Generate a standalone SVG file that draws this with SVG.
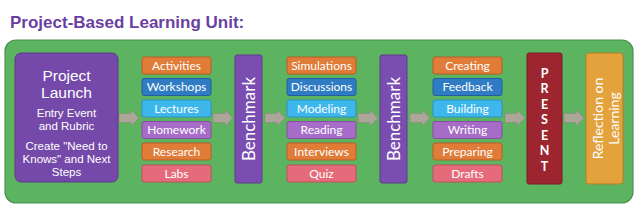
<svg xmlns="http://www.w3.org/2000/svg" width="640" height="221" viewBox="0 0 640 221">
<defs>
<style>
.box{stroke-width:1;}
.o{fill:#e07b38;stroke:#b85e24;}
.db{fill:#2f7cc4;stroke:#21609c;}
.lb{fill:#3db7ec;stroke:#2a93c0;}
.lv{fill:#a66cc7;stroke:#84509f;}
.pk{fill:#e56b7b;stroke:#bd5060;}
.lbl{font-family:Lato,"Open Sans",sans-serif;font-size:12px;fill:#ffffff;text-anchor:middle;}
.big{font-family:"Liberation Sans",Arial,sans-serif;fill:#ffffff;text-anchor:middle;}
.arrow{fill:#aca698;stroke:#8f8a7e;stroke-width:0.6;}
</style>
<path id="arr" d="M0,-4.5 H12 V-8 L20,0 L12,8 V4.5 H0 Z"/>
</defs>
<text x="10" y="28" font-family="Liberation Sans,Arial,sans-serif" font-weight="bold" font-size="17" fill="#6a3fa2">Project-Based Learning Unit:</text>
<rect id="panel" x="5" y="40" width="628" height="163" rx="11" fill="#5cb360" stroke="#4b934e" stroke-width="1.2"/>

<g id="connectors">
<use href="#arr" class="arrow" x="119" y="118"/>
<use href="#arr" class="arrow" x="213" y="118"/>
<use href="#arr" class="arrow" x="265" y="118"/>
<use href="#arr" class="arrow" x="358" y="118"/>
<use href="#arr" class="arrow" x="410" y="118"/>
<use href="#arr" class="arrow" x="505" y="118"/>
<use href="#arr" class="arrow" x="564" y="118"/>
</g>

<g id="launch">
<rect x="15" y="53" width="103" height="129" rx="6" fill="#7549a9" stroke="#5e3a8a"/>
<text class="big" x="66.5" y="81" font-size="15.5">Project</text>
<text class="big" x="66.5" y="98" font-size="15.5">Launch</text>
<text class="big" x="66.5" y="117" font-size="11.5">Entry Event</text>
<text class="big" x="66.5" y="130" font-size="11.5">and Rubric</text>
<text class="big" x="66.5" y="150" font-size="11.5">Create "Need to</text>
<text class="big" x="66.5" y="163" font-size="11.5">Knows" and Next</text>
<text class="big" x="66.5" y="176" font-size="11.5">Steps</text>
</g>

<g id="col1">
<rect class="box o" x="142" y="57" width="69" height="17" rx="2"/><text class="lbl" x="176.5" y="69.5">Activities</text>
<rect class="box db" x="142" y="78.5" width="69" height="17" rx="2"/><text class="lbl" x="176.5" y="91">Workshops</text>
<rect class="box lb" x="142" y="100" width="69" height="17" rx="2"/><text class="lbl" x="176.5" y="112.5">Lectures</text>
<rect class="box lv" x="142" y="121.5" width="69" height="17" rx="2"/><text class="lbl" x="176.5" y="134">Homework</text>
<rect class="box o" x="142" y="143" width="69" height="17" rx="2"/><text class="lbl" x="176.5" y="155.5">Research</text>
<rect class="box pk" x="142" y="165" width="69" height="17" rx="2"/><text class="lbl" x="176.5" y="177.5">Labs</text>
</g>

<g id="benchmark1">
<rect x="235" y="55" width="27" height="128" rx="2" fill="#7a4db1" stroke="#5f3b8c"/>
<text class="lbl" style="font-size:17px" transform="translate(254.5,119) rotate(-90)">Benchmark</text>
</g>

<g id="col2">
<rect class="box o" x="287" y="57" width="69" height="17" rx="2"/><text class="lbl" x="321.5" y="69.5">Simulations</text>
<rect class="box db" x="287" y="78.5" width="69" height="17" rx="2"/><text class="lbl" x="321.5" y="91">Discussions</text>
<rect class="box lb" x="287" y="100" width="69" height="17" rx="2"/><text class="lbl" x="321.5" y="112.5">Modeling</text>
<rect class="box lv" x="287" y="121.5" width="69" height="17" rx="2"/><text class="lbl" x="321.5" y="134">Reading</text>
<rect class="box o" x="287" y="143" width="69" height="17" rx="2"/><text class="lbl" x="321.5" y="155.5">Interviews</text>
<rect class="box pk" x="287" y="165" width="69" height="17" rx="2"/><text class="lbl" x="321.5" y="177.5">Quiz</text>
</g>

<g id="benchmark2">
<rect x="380" y="55" width="27" height="128" rx="2" fill="#7a4db1" stroke="#5f3b8c"/>
<text class="lbl" style="font-size:17px" transform="translate(399.5,119) rotate(-90)">Benchmark</text>
</g>

<g id="col3">
<rect class="box o" x="433" y="57" width="69" height="17" rx="2"/><text class="lbl" x="467.5" y="69.5">Creating</text>
<rect class="box db" x="433" y="78.5" width="69" height="17" rx="2"/><text class="lbl" x="467.5" y="91">Feedback</text>
<rect class="box lb" x="433" y="100" width="69" height="17" rx="2"/><text class="lbl" x="467.5" y="112.5">Building</text>
<rect class="box lv" x="433" y="121.5" width="69" height="17" rx="2"/><text class="lbl" x="467.5" y="134">Writing</text>
<rect class="box o" x="433" y="143" width="69" height="17" rx="2"/><text class="lbl" x="467.5" y="155.5">Preparing</text>
<rect class="box pk" x="433" y="165" width="69" height="17" rx="2"/><text class="lbl" x="467.5" y="177.5">Drafts</text>
</g>

<g id="present">
<rect x="527" y="53" width="35" height="131" rx="2" fill="#9c2530" stroke="#7a1b24"/>
<g class="lbl" style="font-size:12.5px;font-weight:bold">
<text x="544.5" y="77.5">P</text>
<text x="544.5" y="93">R</text>
<text x="544.5" y="108.5">E</text>
<text x="544.5" y="124">S</text>
<text x="544.5" y="139.5">E</text>
<text x="544.5" y="155">N</text>
<text x="544.5" y="170.5">T</text>
</g>
</g>

<g id="reflection">
<rect x="586" y="53" width="37" height="131" rx="3" fill="#e3a23b" stroke="#b97f25"/>
<text class="lbl" style="font-size:14px" transform="translate(603,118.5) rotate(-90)">Reflection on</text>
<text class="lbl" style="font-size:14px" transform="translate(619,118.5) rotate(-90)">Learning</text>
</g>
</svg>
